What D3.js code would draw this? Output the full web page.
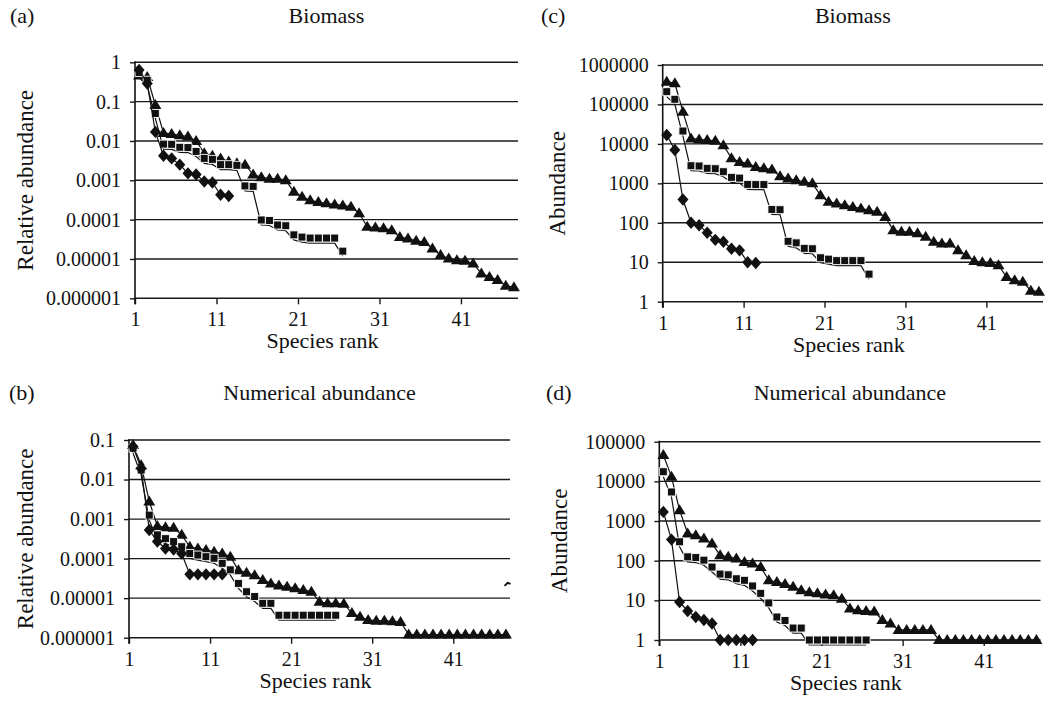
<!DOCTYPE html>
<html>
<head>
<meta charset="utf-8">
<script src="https://cdn.jsdelivr.net/npm/d3@7"></script>
<style>
body { margin: 0; background: #fff; }
svg { display: block; }
</style>
</head>
<body>
<svg id="chart"></svg>
<script>
// species rank axis
const rankCount = 47;
const rankTicks = ["1", "11", "21", "31", "41"];

// y tick labels
const relBiomassTicks = ["1", "0.1", "0.01", "0.001", "0.0001", "0.00001", "0.000001"];
const absBiomassTicks = ["1000000", "100000", "10000", "1000", "100", "10", "1"];
const relNumTicks = ["0.1", "0.01", "0.001", "0.0001", "0.00001", "0.000001"];
const absNumTicks = ["100000", "10000", "1000", "100", "10", "1"];

// (a) biomass, relative abundance
const biomassRelTriangles = [0.46, 0.42, 0.082, 0.016, 0.015, 0.014, 0.013, 0.010, 0.0049, 0.0042,
    0.0036, 0.003, 0.0027, 0.0025, 0.0014, 0.0012, 0.0011, 0.0011, 0.001, 0.00051,
    0.00038, 0.00031, 0.00028, 0.00026, 0.000244, 0.00023, 0.000213, 0.000145, 0.000066, 0.000063,
    0.00006, 0.000054, 0.000036, 0.000033, 0.000029, 0.000027, 0.0000185, 0.0000126, 0.0000103, 0.0000093,
    0.000009, 0.0000077, 0.0000043, 0.0000035, 0.0000029, 0.0000021, 0.0000019];
const biomassRelSquares = [0.55, 0.35, 0.05, 0.0083, 0.0082, 0.0069, 0.0068, 0.0054, 0.0036, 0.0034,
    0.0025, 0.0025, 0.0024, 0.00072, 0.0007, 0.000098, 0.000095, 0.000073, 0.00007, 0.000041,
    0.000036, 0.000034, 0.000034, 0.000034, 0.000034, 0.0000158];
const biomassRelDiamonds = [0.64, 0.29, 0.017, 0.0042, 0.0036, 0.0025, 0.0015, 0.0014, 0.00093, 0.00088,
    0.00043, 0.0004];

// (c) biomass, abundance
const biomassAbsTriangles = [378000, 343000, 65000, 13800, 13000, 12500, 12000, 9300, 4300, 3500,
    3200, 2600, 2400, 2250, 1520, 1320, 1200, 1100, 1000, 500,
    340, 310, 280, 253, 230, 209, 190, 141, 65, 59,
    59, 54, 44, 33, 30, 30, 20, 15, 10.7, 10,
    9.6, 8.4, 4.2, 3.5, 3.2, 1.9, 1.8];
const biomassAbsSquares = [211000, 135000, 21200, 2800, 2750, 2400, 2350, 1970, 1420, 1360,
    940, 930, 930, 218, 215, 34, 31, 22.5, 22, 13,
    12, 11, 11, 11, 11, 5];
const biomassAbsDiamonds = [16800, 7000, 390, 100, 87, 56, 37, 33, 22, 20, 10, 9.6];

// (b) numerical, relative abundance
const numRelTriangles = [0.075, 0.023, 0.0028, 0.00067, 0.00062, 0.0006, 0.0004, 0.0002, 0.00018, 0.000166,
    0.00015, 0.000135, 0.000112, 0.000051, 0.000044, 0.000038, 0.000029, 0.0000236, 0.000021, 0.0000195,
    0.0000178, 0.0000162, 0.0000146, 0.0000081, 0.0000074, 0.0000074, 0.0000072, 0.0000042, 0.0000034, 0.0000028,
    0.0000027, 0.0000027, 0.0000026, 0.0000025, 0.0000012, 0.0000012, 0.0000012, 0.0000012, 0.0000012, 0.0000012,
    0.0000012, 0.0000012, 0.0000012, 0.0000012, 0.0000012, 0.0000012, 0.0000012];
const numRelSquares = [0.062, 0.0174, 0.00126, 0.0004, 0.00032, 0.00027, 0.0002, 0.000135, 0.000123, 0.000112,
    0.000102, 0.000076, 0.000052, 0.0000236, 0.0000145, 0.000011, 0.0000074, 0.0000074, 0.0000037, 0.0000037,
    0.0000037, 0.0000037, 0.0000037, 0.0000037, 0.0000037, 0.0000037];
const numRelDiamonds = [0.068, 0.019, 0.00053, 0.00027, 0.00018, 0.00017, 0.000135, 0.00004, 0.00004, 0.00004,
    0.00004, 0.00004];
const numRelStray = [{rank: 47.2, value: 0.000023}];

// (d) numerical, abundance
const numAbsTriangles = [46000, 13000, 1880, 484, 440, 364, 270, 138, 125, 113,
    93, 85, 69, 32, 29, 26, 22, 18, 16, 15,
    14, 13.5, 11, 6.2, 5.6, 5.4, 5.2, 3.2, 2.6, 1.8,
    1.8, 1.8, 1.8, 1.8, 1, 1, 1, 1, 1, 1,
    1, 1, 1, 1, 1, 1, 1];
const numAbsSquares = [17500, 5400, 300, 125, 120, 103, 69, 46, 44, 35,
    32, 23, 15, 8.6, 3.8, 3.1, 2, 2, 1, 1,
    1, 1, 1, 1, 1, 1];
const numAbsDiamonds = [1700, 340, 9.1, 5.4, 3.8, 3.2, 2.6, 1, 1, 1, 1, 1];

const fontFamily = "'Liberation Serif', 'Times New Roman', serif";
const ink = "#111";

// marker shapes, centred on the point
const triangleShape = "M0,-6 L6,4 L-6,4 Z";
const squareShape = "M-4,-4 H4 V4 H-4 Z";
const diamondShape = "M0,-6.2 L5.5,0 L0,6.2 L-5.5,0 Z";

const rankPanel = (svg, args) => {
    return {
        p: args,
        x: null,
        y: null,
        g: null,
        setup: function() {
            var vals = this.p.ticks.map(Number);
            this.x = d3.scaleLinear()
                .domain([0.5, rankCount + 0.5])
                .range([this.p.left, this.p.right]);
            this.y = d3.scaleLog()
                .domain([d3.min(vals), d3.max(vals)])
                .range([this.p.bottom, this.p.top]);
            this.g = svg.append("g").attr("id", "panel-" + this.p.letter);
        },
        drawGrid: function() {
            var me = this;
            var vals = this.p.ticks.map(Number);
            this.g.append("g").selectAll("line").data(vals).enter().append("line")
                .attr("x1", this.p.left)
                .attr("x2", this.p.right)
                .attr("y1", function(d) { return me.y(d); })
                .attr("y2", function(d) { return me.y(d); })
                .attr("stroke", "#1a1a1a")
                .attr("stroke-width", 1.4);

            var yAxis = this.g.append("g")
                .attr("transform", "translate(" + this.p.left + ",0)")
                .call(d3.axisLeft(this.y)
                    .tickValues(vals)
                    .tickFormat(function(d) { return me.p.ticks[vals.indexOf(d)]; })
                    .tickSize(5)
                    .tickPadding(9))
                .attr("font-family", fontFamily)
                .attr("font-size", 20);
            yAxis.select(".domain").remove();
            yAxis.selectAll("line").attr("stroke", "#1a1a1a").attr("stroke-width", 1.4);
            yAxis.selectAll("text").attr("fill", ink);

            var xAxis = this.g.append("g")
                .attr("transform", "translate(0," + this.p.bottom + ")")
                .call(d3.axisBottom(this.x)
                    .tickValues([0.5, 10.5, 20.5, 30.5, 40.5])
                    .tickFormat(function(d, i) { return rankTicks[i]; })
                    .tickSize(6))
                .attr("font-family", fontFamily)
                .attr("font-size", 20);
            xAxis.select(".domain").remove();
            xAxis.selectAll("line").attr("stroke", "#1a1a1a").attr("stroke-width", 1.4);
            xAxis.selectAll("text")
                .attr("fill", ink)
                .attr("y", 28)
                .attr("dy", 0);

            // vertical axis
            this.g.append("line")
                .attr("x1", this.p.left).attr("x2", this.p.left)
                .attr("y1", this.p.top - 1).attr("y2", this.p.bottom + 6)
                .attr("stroke", ink)
                .attr("stroke-width", 1.6);
        },
        drawSeries: function(values, shape, lineShift, outline) {
            var me = this;
            var pts = values.map(function(v, i) { return {rank: i + 1, value: v}; });
            var line = d3.line()
                .x(function(d) { return me.x(d.rank); })
                .y(function(d) { return me.y(d.value) + lineShift; });
            this.g.append("path")
                .datum(pts)
                .attr("d", line)
                .attr("fill", "none")
                .attr("stroke", ink)
                .attr("stroke-width", 1.2);
            this.g.append("g").selectAll("path").data(pts).enter().append("path")
                .attr("transform", function(d) {
                    return "translate(" + me.x(d.rank) + "," + me.y(d.value) + ")";
                })
                .attr("d", shape)
                .attr("fill", ink)
                .attr("stroke", outline ? "#fff" : "none")
                .attr("stroke-width", outline ? 0.9 : 0);
        },
        drawData: function() {
            this.drawSeries(this.p.triangles, triangleShape, 0, false);
            this.drawSeries(this.p.squares, squareShape, 5, true);
            this.drawSeries(this.p.diamonds, diamondShape, 0, false);
            var me = this;
            if (this.p.stray) {
                this.g.append("g").selectAll("path").data(this.p.stray).enter().append("path")
                    .attr("transform", function(d) {
                        return "translate(" + me.x(d.rank) + "," + me.y(d.value) + ")";
                    })
                    .attr("d", "M-3,2 L0,-1 L3,0")
                    .attr("fill", "none")
                    .attr("stroke", ink)
                    .attr("stroke-width", 2);
            }
        },
        drawLabels: function() {
            var cx = (this.p.left + this.p.right) / 2;
            var cy = (this.p.top + this.p.bottom) / 2;
            this.g.append("text")
                .attr("x", this.p.letterX).attr("y", this.p.titleY)
                .attr("font-family", fontFamily).attr("font-size", 22).attr("fill", ink)
                .text("(" + this.p.letter + ")");
            this.g.append("text")
                .attr("x", cx).attr("y", this.p.titleY)
                .attr("text-anchor", "middle")
                .attr("font-family", fontFamily).attr("font-size", 22).attr("fill", ink)
                .text(this.p.title);
            this.g.append("text")
                .attr("x", cx - 4).attr("y", this.p.bottom + 50)
                .attr("text-anchor", "middle")
                .attr("font-family", fontFamily).attr("font-size", 22).attr("fill", ink)
                .text("Species rank");
            this.g.append("text")
                .attr("transform", "translate(" + this.p.yTitleX + "," + cy + ") rotate(-90)")
                .attr("text-anchor", "middle")
                .attr("font-family", fontFamily).attr("font-size", 23).attr("fill", ink)
                .text(this.p.yTitle);
        },
        run: function() {
            this.setup();
            this.drawGrid();
            this.drawData();
            this.drawLabels();
        }
    };
};

const svg = d3.select("#chart").attr("width", 1053).attr("height", 702);

rankPanel(svg, {
    letter: "a", title: "Biomass", yTitle: "Relative abundance",
    left: 135, right: 518, top: 62.3, bottom: 298.3,
    ticks: relBiomassTicks, titleY: 23, letterX: 10, yTitleX: 33,
    triangles: biomassRelTriangles, squares: biomassRelSquares, diamonds: biomassRelDiamonds
}).run();

rankPanel(svg, {
    letter: "c", title: "Biomass", yTitle: "Abundance",
    left: 662.7, right: 1043, top: 65, bottom: 301.7,
    ticks: absBiomassTicks, titleY: 23, letterX: 541, yTitleX: 565,
    triangles: biomassAbsTriangles, squares: biomassAbsSquares, diamonds: biomassAbsDiamonds
}).run();

rankPanel(svg, {
    letter: "b", title: "Numerical abundance", yTitle: "Relative abundance",
    left: 129, right: 510, top: 440, bottom: 637.7,
    ticks: relNumTicks, titleY: 400, letterX: 9, yTitleX: 33,
    triangles: numRelTriangles, squares: numRelSquares, diamonds: numRelDiamonds,
    stray: numRelStray
}).run();

rankPanel(svg, {
    letter: "d", title: "Numerical abundance", yTitle: "Abundance",
    left: 659.3, right: 1040.5, top: 441.7, bottom: 640,
    ticks: absNumTicks, titleY: 400, letterX: 546, yTitleX: 567,
    triangles: numAbsTriangles, squares: numAbsSquares, diamonds: numAbsDiamonds
}).run();
</script>
</body>
</html>
